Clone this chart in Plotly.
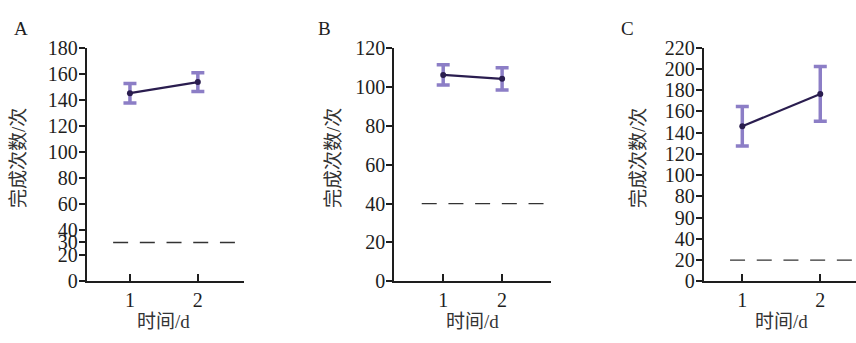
import plotly.graph_objects as go

# ---------------- data ----------------
panels = ["A", "B", "C"]
days = [1, 2]
mean_A = [145, 153.5]
err_A = [7.5, 7.3]
mean_B = [106, 104]
err_B = [5.2, 5.7]
mean_C = [146, 176.5]
err_C = [18.6, 25.8]
threshold = [30, 40, 20]

ticks_A = [0, 20, 30, 40, 60, 80, 100, 120, 140, 160, 180]
ticklabels_A = ["0", "20", "30", "40", "60", "80", "100", "120", "140", "160", "180"]
ticks_B = [0, 20, 40, 60, 80, 100, 120]
ticklabels_B = ["0", "20", "40", "60", "80", "100", "120"]
ticks_C = [0, 20, 40, 60, 80, 100, 120, 140, 160, 180, 200, 220]
ticklabels_C = ["0", "20", "40", "90", "80", "100", "120", "140", "160", "180", "200", "220"]

y_title = "完成次数/次"
x_title = "时间/d"

# ---------------- style ----------------
W, H = 856, 343
FONT = "Liberation Serif, Noto Sans CJK SC, serif"
INK = "#1e1e1e"
LINE = "#2a1d4f"
ERR = "#8c7ec6"

x_dom = [(86.7 / W, 244 / W), (394.3 / W, 551 / W), (703.7 / W, 1.0)]
y_dom = ((343 - 289) / H, (343 - 39.2) / H)
x_rng = [(0.363, 2.68), (0.17, 2.83), (0.505, 2.458)]
y_rng = [(0, 180), (0, 120), (0, 220)]
dash_ext = [(0.168, 0.97), (0.175, 0.979), (0.173, 1.0)]
label_x = [21, 324, 627]
ytitle_x = [19, 334, 639]

means = [mean_A, mean_B, mean_C]
errs = [err_A, err_B, err_C]
tvals = [ticks_A, ticks_B, ticks_C]
ttext = [ticklabels_A, ticklabels_B, ticklabels_C]

fig = go.Figure()
annotations = []
shapes = []
for i in range(3):
    xa = "x" if i == 0 else f"x{i+1}"
    ya = "y" if i == 0 else f"y{i+1}"
    # error bars (drawn underneath the line)
    fig.add_trace(go.Scatter(
        x=days, y=means[i], xaxis=xa, yaxis=ya, mode="markers",
        marker=dict(size=1, color="rgba(0,0,0,0)"),
        error_y=dict(type="data", array=errs[i], visible=True,
                     color=ERR, thickness=3.5, width=6.5),
        showlegend=False, hoverinfo="skip"))
    fig.add_trace(go.Scatter(
        x=days, y=means[i], xaxis=xa, yaxis=ya, mode="lines+markers",
        line=dict(color=LINE, width=2.2),
        marker=dict(size=6, color=LINE),
        showlegend=False))
    ax_common = dict(showgrid=False, zeroline=False, showline=True,
                     linecolor=INK, linewidth=2, ticks="outside",
                     tickcolor=INK, tickwidth=1.5, ticklen=6,
                     tickfont=dict(family=FONT, size=20, color=INK))
    xkey = "xaxis" if i == 0 else f"xaxis{i+1}"
    ykey = "yaxis" if i == 0 else f"yaxis{i+1}"
    fig.update_layout(**{
        xkey: dict(ax_common, domain=list(x_dom[i]), range=list(x_rng[i]),
                   anchor=ya, tickvals=days, ticktext=[str(d) for d in days],
                   ticks="inside", ticklen=7),
        ykey: dict(ax_common, domain=list(y_dom), range=list(y_rng[i]),
                   anchor=xa, tickvals=tvals[i], ticktext=ttext[i], ticklen=6,
                   ticklabelstandoff=-3),
    })
    shapes.append(dict(type="line", xref=f"{xa} domain", yref=ya,
                       x0=dash_ext[i][0], x1=dash_ext[i][1],
                       y0=threshold[i], y1=threshold[i],
                       line=dict(color="#333333", width=1.3, dash="15px,11.7px")))
    annotations.append(dict(text=panels[i], x=label_x[i] / W, y=(343 - 19) / H,
                            xref="paper", yref="paper", showarrow=False,
                            xanchor="center", yanchor="middle",
                            font=dict(family=FONT, size=19, color=INK)))
    annotations.append(dict(text=y_title, x=ytitle_x[i] / W, y=(343 - 157) / H,
                            xref="paper", yref="paper", showarrow=False,
                            textangle=-90, xanchor="center", yanchor="middle",
                            font=dict(family=FONT, size=19, color="#333333")))
    annotations.append(dict(text=x_title, x=1.5, y=(343 - 332) / H,
                            xref=xa, yref="paper", showarrow=False,
                            xanchor="center", yanchor="middle",
                            font=dict(family=FONT, size=19, color="#333333")))

fig.update_layout(width=W, height=H, margin=dict(l=0, r=0, t=0, b=0),
                  paper_bgcolor="white", plot_bgcolor="white",
                  shapes=shapes, annotations=annotations)

fig.write_html("out.html", config={"displayModeBar": False},
               post_script="document.body.style.margin='0';document.body.style.overflow='hidden';")
